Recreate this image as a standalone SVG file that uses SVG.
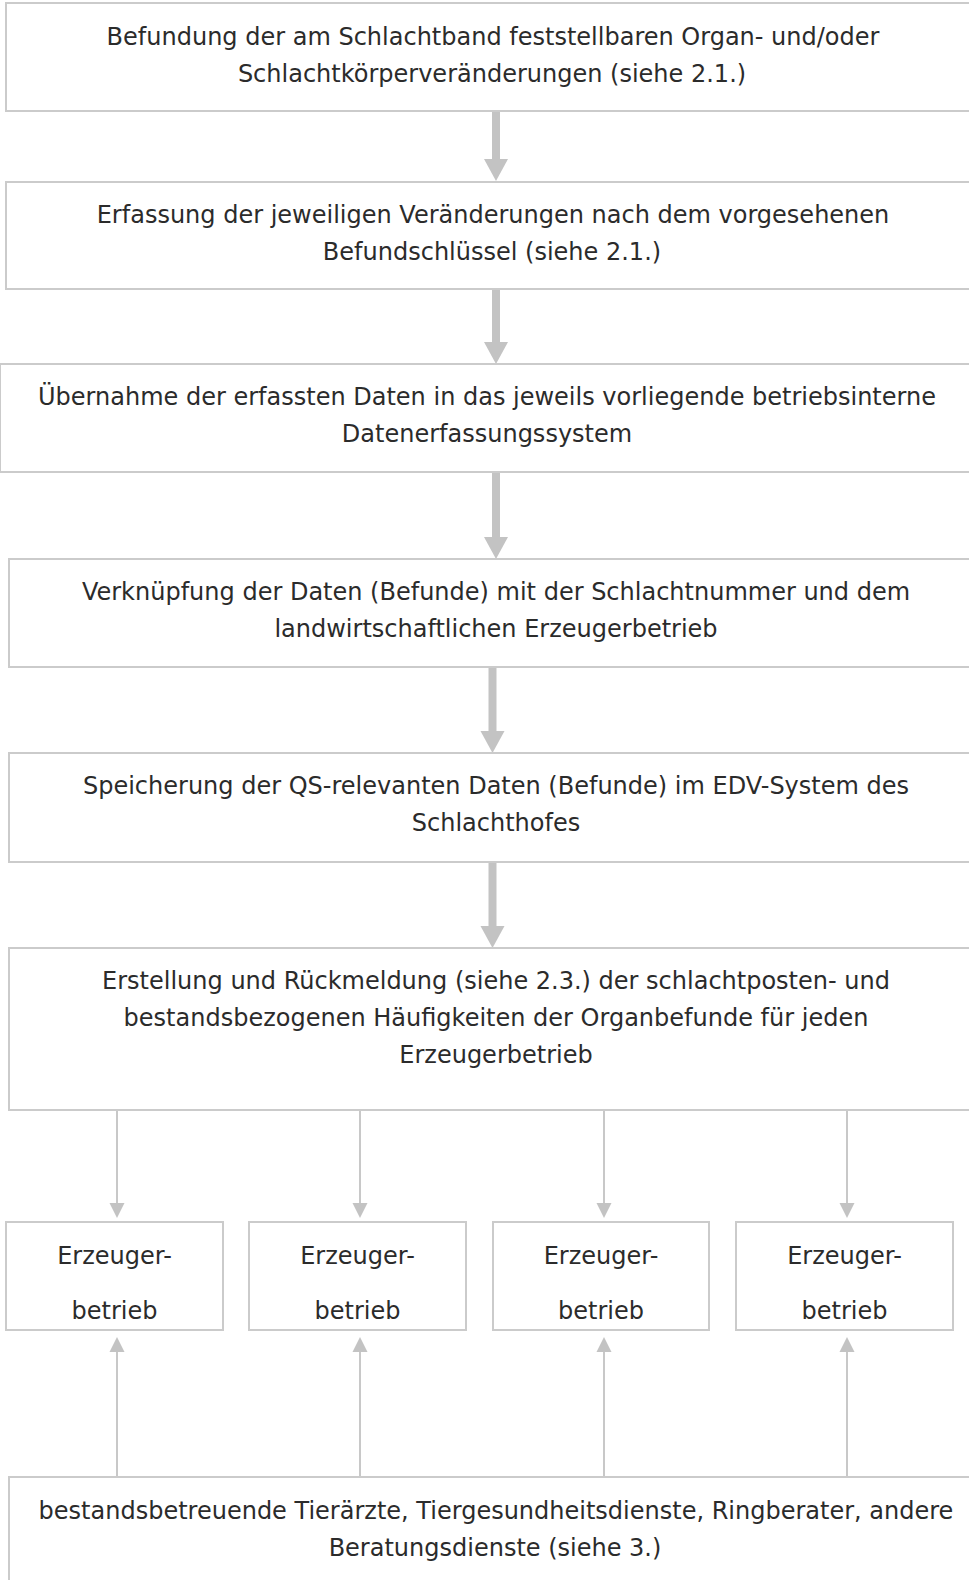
<svg xmlns="http://www.w3.org/2000/svg" width="969" height="1580" viewBox="0 0 969 1580">
<defs>
<style>
.box{fill:#ffffff;stroke:#cbcbcb;stroke-width:2}
.t{font-family:"DejaVu Sans",Verdana,sans-serif;font-size:24px;fill:#2b2b2b;text-anchor:middle}
.thick{stroke:#c3c3c3;stroke-width:8;fill:none}
.thin{stroke:#c8c8c8;stroke-width:2;fill:none}
.hd{fill:#c3c3c3}
.hs{fill:#c3c3c3}
</style>
</defs>
<rect width="969" height="1580" fill="#ffffff"/>
<g id="connectors">
<line class="thick" x1="496" y1="111" x2="496" y2="160"/>
<polygon class="hd" points="484,159 508,159 496,181"/>
<line class="thick" x1="496" y1="289" x2="496" y2="343"/>
<polygon class="hd" points="484,342 508,342 496,364"/>
<line class="thick" x1="496" y1="472" x2="496" y2="538"/>
<polygon class="hd" points="484,537 508,537 496,559"/>
<line class="thick" x1="492.5" y1="667" x2="492.5" y2="732"/>
<polygon class="hd" points="480.5,731 504.5,731 492.5,753"/>
<line class="thick" x1="492.5" y1="862" x2="492.5" y2="927"/>
<polygon class="hd" points="480.5,926 504.5,926 492.5,948"/>
<line class="thin" x1="117" y1="1110" x2="117" y2="1204"/>
<polygon class="hs" points="109.5,1203 124.5,1203 117,1218"/>
<line class="thin" x1="360" y1="1110" x2="360" y2="1204"/>
<polygon class="hs" points="352.5,1203 367.5,1203 360,1218"/>
<line class="thin" x1="604" y1="1110" x2="604" y2="1204"/>
<polygon class="hs" points="596.5,1203 611.5,1203 604,1218"/>
<line class="thin" x1="847" y1="1110" x2="847" y2="1204"/>
<polygon class="hs" points="839.5,1203 854.5,1203 847,1218"/>
<line class="thin" x1="117" y1="1477" x2="117" y2="1351"/>
<polygon class="hs" points="109.5,1352 124.5,1352 117,1337"/>
<line class="thin" x1="360" y1="1477" x2="360" y2="1351"/>
<polygon class="hs" points="352.5,1352 367.5,1352 360,1337"/>
<line class="thin" x1="604" y1="1477" x2="604" y2="1351"/>
<polygon class="hs" points="596.5,1352 611.5,1352 604,1337"/>
<line class="thin" x1="847" y1="1477" x2="847" y2="1351"/>
<polygon class="hs" points="839.5,1352 854.5,1352 847,1337"/>
</g>
<g id="n1">
<rect class="box" x="6" y="3" width="980" height="108"/>
<text class="t" x="493" y="45">Befundung der am Schlachtband feststellbaren Organ- und/oder</text>
<text class="t" x="492" y="82">Schlachtkörperveränderungen (siehe 2.1.)</text>
</g>
<g id="n2">
<rect class="box" x="6" y="182" width="980" height="107"/>
<text class="t" x="493" y="223">Erfassung der jeweiligen Veränderungen nach dem vorgesehenen</text>
<text class="t" x="492" y="260">Befundschlüssel (siehe 2.1.)</text>
</g>
<g id="n3">
<rect class="box" x="0" y="364" width="980" height="108"/>
<text class="t" x="487" y="405">Übernahme der erfassten Daten in das jeweils vorliegende betriebsinterne</text>
<text class="t" x="487" y="442">Datenerfassungssystem</text>
</g>
<g id="n4">
<rect class="box" x="9" y="559" width="980" height="108"/>
<text class="t" x="496" y="600">Verknüpfung der Daten (Befunde) mit der Schlachtnummer und dem</text>
<text class="t" x="496" y="637">landwirtschaftlichen Erzeugerbetrieb</text>
</g>
<g id="n5">
<rect class="box" x="9" y="753" width="980" height="109"/>
<text class="t" x="496" y="794">Speicherung der QS-relevanten Daten (Befunde) im EDV-System des</text>
<text class="t" x="496" y="831">Schlachthofes</text>
</g>
<g id="n6">
<rect class="box" x="9" y="948" width="980" height="162"/>
<text class="t" x="496" y="989">Erstellung und Rückmeldung (siehe 2.3.) der schlachtposten- und</text>
<text class="t" x="496" y="1026">bestandsbezogenen Häufigkeiten der Organbefunde für jeden</text>
<text class="t" x="496" y="1063">Erzeugerbetrieb</text>
</g>
<g id="e1">
<rect class="box" x="6" y="1222" width="217" height="108"/>
<text class="t" x="114.5" y="1264">Erzeuger-</text>
<text class="t" x="114.5" y="1319">betrieb</text>
</g>
<g id="e2">
<rect class="box" x="249" y="1222" width="217" height="108"/>
<text class="t" x="357.5" y="1264">Erzeuger-</text>
<text class="t" x="357.5" y="1319">betrieb</text>
</g>
<g id="e3">
<rect class="box" x="493" y="1222" width="216" height="108"/>
<text class="t" x="601" y="1264">Erzeuger-</text>
<text class="t" x="601" y="1319">betrieb</text>
</g>
<g id="e4">
<rect class="box" x="736" y="1222" width="217" height="108"/>
<text class="t" x="844.5" y="1264">Erzeuger-</text>
<text class="t" x="844.5" y="1319">betrieb</text>
</g>
<g id="n7">
<rect class="box" x="9" y="1477" width="980" height="140"/>
<text class="t" x="496" y="1519">bestandsbetreuende Tierärzte, Tiergesundheitsdienste, Ringberater, andere</text>
<text class="t" x="495" y="1556">Beratungsdienste (siehe 3.)</text>
</g>
</svg>
